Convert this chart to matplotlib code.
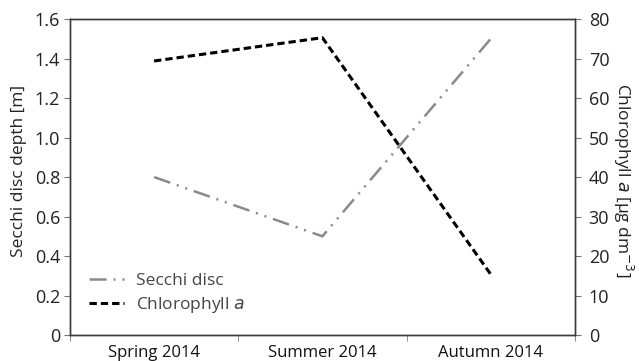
import matplotlib
matplotlib.use("Agg")
import matplotlib.pyplot as plt
from matplotlib.ticker import FixedLocator

plt.rcParams['font.family'] = ['Open Sans', 'DejaVu Sans']

seasons = ["Spring 2014", "Summer 2014", "Autumn 2014"]
secchi = [0.8, 0.5, 1.5]
chlorophyll = [69.4, 75.3, 15.4]
left_ticks = [0, 0.2, 0.4, 0.6, 0.8, 1.0, 1.2, 1.4, 1.6]
left_labels = ["0", "0.2", "0.4", "0.6", "0.8", "1.0", "1.2", "1.4", "1.6"]
right_ticks = [0, 10, 20, 30, 40, 50, 60, 70, 80]

spine_col = "#3a3a3a"
tick_col = "#777777"
text_col = "#222222"

fig = plt.figure(figsize=(6.39, 3.61), dpi=100)
ax = fig.add_axes([0.1095, 0.072, 0.79, 0.875])
ax2 = ax.twinx()

x = list(range(len(seasons)))
l1, = ax.plot(x, secchi, color="#8a8a8a", lw=1.8, dashes=(6.8, 2.8, 0.8, 2.8, 0.8, 2.8),
              label="Secchi disc")
l2, = ax2.plot(x, chlorophyll, color="black", lw=2.2, dashes=(2.4, 1.3),
               label="Chlorophyll $\\it{a}$")

ax.set_xlim(-0.5, len(seasons) - 0.5)
ax.set_ylim(0, 1.6)
ax2.set_ylim(0, 80)

ax.set_xticks(x)
ax.set_xticklabels(seasons, fontsize=12, color="#111111")
ax.tick_params(axis="x", which="major", length=0, pad=7)
ax.xaxis.set_minor_locator(FixedLocator([-0.5, 0.5, 1.5, 2.5]))
ax.tick_params(axis="x", which="minor", length=4, color=tick_col, direction="out")

ax.set_yticks(left_ticks)
ax.set_yticklabels(left_labels, fontsize=13, color=text_col)
ax.tick_params(axis="y", length=4, color=tick_col, pad=3)
ax2.set_yticks(right_ticks)
ax2.set_yticklabels([str(v) for v in right_ticks], fontsize=13, color=text_col)
ax2.tick_params(axis="y", length=4, color=tick_col, pad=6)

for a in (ax, ax2):
    for s in a.spines.values():
        s.set_color(spine_col)
        s.set_linewidth(1.0)

ax.set_ylabel("Secchi disc depth [m]", fontsize=12.5, color=text_col)
ax.yaxis.set_label_coords(-0.085, 0.519)
ax2.set_ylabel("Chlorophyll $\\it{a}$ [µg dm$^{-3}$]", fontsize=12.5, color=text_col,
               rotation=270)
ax2.yaxis.set_label_coords(1.119, 0.49)

leg = ax.legend(handles=[l1, l2], loc="upper left", bbox_to_anchor=(0.0376, 0.197),
                frameon=False, fontsize=12.5, handlelength=2.0, handletextpad=0.7,
                labelspacing=0.35, borderpad=0, borderaxespad=0,
                labelcolor="#444444")

fig.savefig("out.png", dpi=100)
